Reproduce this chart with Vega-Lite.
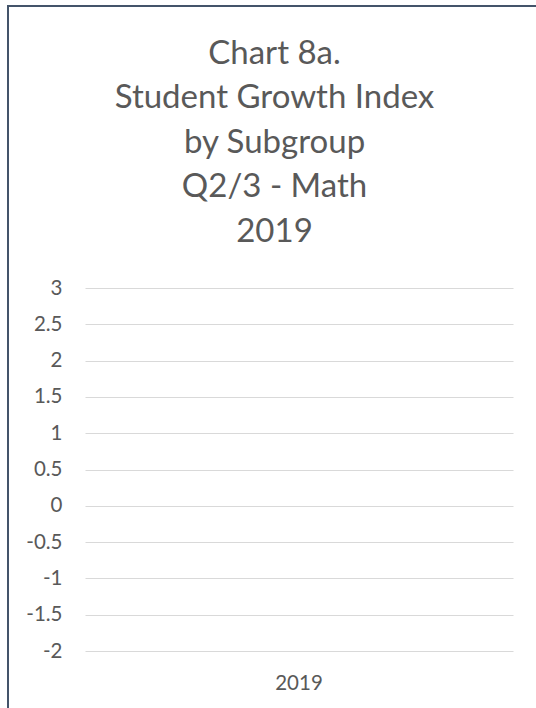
{
  "$schema": "https://vega.github.io/schema/vega-lite/v6.json",
  "autosize": "none",
  "width": 540,
  "height": 710,
  "padding": {"left": 8, "top": 6, "right": -12, "bottom": -8},
  "background": "white",
  "title": {
    "text": ["Chart 8a.", "Student Growth Index", "by Subgroup", "Q2/3 - Math", "2019"],
    "anchor": "middle",
    "frame": "group",
    "orient": "top",
    "baseline": "bottom",
    "font": "Lato",
    "fontSize": 33,
    "fontWeight": "normal",
    "color": "#595959",
    "lineHeight": 44.6,
    "offset": 0,
    "dx": -3.5,
    "dy": 276
  },
  "data": {"values": [{"year": "2019", "value": null}]},
  "mark": {"type": "bar", "color": "#4472C4"},
  "encoding": {
    "x": {
      "field": "year",
      "type": "nominal",
      "scale": {"domain": ["2019"], "range": [77, 505]},
      "axis": {
        "orient": "bottom",
        "title": null,
        "domain": false,
        "ticks": false,
        "grid": false,
        "labelAngle": 0,
        "labelFont": "Lato",
        "labelFontSize": 20.5,
        "labelColor": "#595959",
        "offset": -50,
        "labelPadding": 7
      }
    },
    "y": {
      "field": "value",
      "type": "quantitative",
      "scale": {"domain": [-2, 3], "range": [645, 282], "nice": false, "zero": false},
      "axis": {
        "orient": "left",
        "title": null,
        "domain": false,
        "ticks": false,
        "grid": true,
        "gridColor": "#D9D9D9",
        "gridWidth": 1,
        "values": [-2, -1.5, -1, -0.5, 0, 0.5, 1, 1.5, 2, 2.5, 3],
        "labelExpr": "datum.value < 0 ? '-' + format(-datum.value, '~g') : format(datum.value, '~g')",
        "labelFont": "Lato",
        "labelFontSize": 20.5,
        "labelColor": "#595959",
        "offset": -58,
        "labelPadding": 4
      }
    }
  },
  "config": {"view": {"stroke": "#44546A", "strokeWidth": 2}}
}
